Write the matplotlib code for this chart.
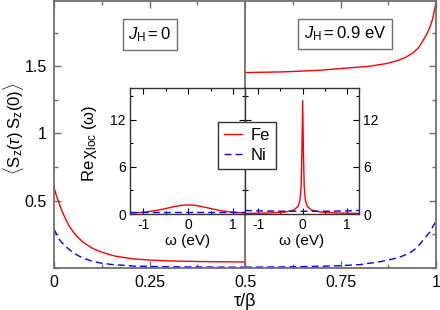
import matplotlib
matplotlib.use("Agg")
import matplotlib.pyplot as plt
from matplotlib.ticker import MultipleLocator

plt.rcParams['font.family'] = ['Liberation Sans', 'DejaVu Sans']
plt.rcParams['mathtext.fontset'] = 'custom'
plt.rcParams['mathtext.rm'] = 'Liberation Sans'
plt.rcParams['mathtext.it'] = 'Liberation Sans:italic'
plt.rcParams['mathtext.sf'] = 'Liberation Sans'
plt.rcParams['axes.unicode_minus'] = False

# main panel: tau/beta in [0, 0.5] is J_H = 0, [0.5, 1] is J_H = 0.9 eV
tau_fe_l = [0, 0.005, 0.011, 0.02, 0.027, 0.033, 0.04, 0.05, 0.06, 0.077, 0.1, 0.12, 0.16, 0.207, 0.25, 0.295, 0.38, 0.45, 0.5]
fe_l = [0.6, 0.55, 0.5, 0.43, 0.385, 0.35, 0.31, 0.27, 0.235, 0.19, 0.148, 0.122, 0.088, 0.068, 0.059, 0.053, 0.048, 0.046, 0.045]
tau_ni_l = [0, 0.005, 0.012, 0.02, 0.033, 0.045, 0.06, 0.075, 0.095, 0.12, 0.148, 0.21, 0.3, 0.4, 0.5]
ni_l = [0.29, 0.26, 0.22, 0.19, 0.155, 0.125, 0.097, 0.075, 0.055, 0.038, 0.027, 0.014, 0.009, 0.007, 0.006]

tau_fe_r = [0.5, 0.6, 0.696, 0.76, 0.827, 0.87, 0.897, 0.92, 0.94, 0.955, 0.966, 0.976, 0.984, 0.991, 0.997, 1.0]
fe_r = [1.453, 1.458, 1.47, 1.485, 1.50, 1.52, 1.54, 1.565, 1.60, 1.64, 1.69, 1.74, 1.79, 1.85, 1.93, 1.98]
tau_ni_r = [0.5, 0.6, 0.7, 0.75, 0.8, 0.85, 0.9, 0.93, 0.95, 0.97, 0.985, 0.992, 1.0]
ni_r = [0.006, 0.008, 0.013, 0.017, 0.025, 0.045, 0.075, 0.11, 0.15, 0.22, 0.27, 0.31, 0.345]

# insets: Re chi_loc(omega)
w_l = [-1.3, -1.0, -0.7, -0.5, -0.3, -0.15, 0, 0.15, 0.3, 0.5, 0.7, 1.0, 1.3]
chi_fe_l = [0.12, 0.22, 0.45, 0.7, 0.95, 1.1, 1.15, 1.1, 0.95, 0.7, 0.45, 0.22, 0.12]
chi_ni_l = [0.3, 0.3, 0.3, 0.3, 0.3, 0.3, 0.3, 0.3, 0.3, 0.3, 0.3, 0.3, 0.3]

w_r = [-1.3, -0.8, -0.4, -0.2, -0.1, -0.06, -0.035, -0.018, 0, 0.018, 0.035, 0.06, 0.1, 0.2, 0.4, 0.8, 1.3]
chi_fe_r = [0.08, 0.12, 0.25, 0.5, 1.0, 1.8, 3.5, 7.5, 14.4, 7.5, 3.5, 1.8, 1.0, 0.5, 0.25, 0.12, 0.08]
w_ni_r = [-1.3, -1.0, -0.5, 0, 0.5, 1.0, 1.3]
chi_ni_r = [0.45, 0.4, 0.35, 0.35, 0.35, 0.4, 0.45]

FE = '#ff0000'
NI = '#0000ff'
GRAY = '#6e6e6e'

fig = plt.figure(figsize=(4.4, 3.1), dpi=100)
ax = fig.add_axes([54 / 440, 42 / 310, 382 / 440, 267 / 310])

ax.plot(tau_fe_l, fe_l, color=FE, lw=1.0)
ax.plot(tau_ni_l, ni_l, color=NI, lw=1.0, dashes=(5, 3))
ax.plot(tau_fe_r, fe_r, color=FE, lw=1.0)
ax.plot(tau_ni_r, ni_r, color=NI, lw=1.0, dashes=(5, 3))
ax.axvline(0.5, color=GRAY, lw=1.3)

ax.set_xlim(0, 1)
ax.set_ylim(0, 1.985)
ax.set_xticks([0, 0.25, 0.5, 0.75, 1])
ax.set_xticklabels(['0', '0.25', '0.5', '0.75', '1'])
ax.set_yticks([0.5, 1, 1.5])
ax.set_yticklabels(['0.5', '1', '1.5'])
ax.xaxis.set_minor_locator(MultipleLocator(0.125))
ax.yaxis.set_minor_locator(MultipleLocator(0.25))
ax.tick_params(which='both', direction='in', top=True, right=True, color=GRAY, width=1.0)
ax.tick_params(which='major', length=5, labelsize=11.5, pad=5)
ax.tick_params(which='minor', length=3)
for s in ax.spines.values():
    s.set_color(GRAY)
    s.set_linewidth(1.3)

ax.set_xlabel(r'τ/β', fontsize=13, labelpad=2)
ax.set_ylabel(r'$\langle\mathrm{S_z}(\tau)\;\mathrm{S_z}(0)\rangle$', fontsize=12)
ax.yaxis.set_label_coords(-0.072, 0.52)

box = dict(boxstyle='square,pad=0.35', fc='white', ec=GRAY, lw=1.0)
ax.text(0.251, 1.735, r'$J_\mathrm{H}=0$', fontsize=12, ha='center', va='center', bbox=box)
ax.text(0.762, 1.74, r'$J_\mathrm{H}=0.9$ eV', fontsize=12, ha='center', va='center', bbox=box)

# insets
ins_l = fig.add_axes([130 / 440, 96 / 310, 115 / 440, 126 / 310])
ins_r = fig.add_axes([245 / 440, 96 / 310, 114 / 440, 126 / 310])

ins_l.plot(w_l, chi_fe_l, color=FE, lw=1.0, label='Fe')
ins_l.plot(w_l, chi_ni_l, color=NI, lw=1.0, dashes=(5, 3), label='Ni')
ins_r.plot(w_r, chi_fe_r, color=FE, lw=1.0)
ins_r.plot(w_ni_r, chi_ni_r, color=NI, lw=1.0, dashes=(5, 3))

for a in (ins_l, ins_r):
    a.set_xlim(-1.3, 1.27)
    a.set_ylim(0, 16)
    a.set_xticks([-1, 0, 1])
    a.set_yticks([0, 6, 12])
    a.xaxis.set_minor_locator(MultipleLocator(0.5))
    a.yaxis.set_minor_locator(MultipleLocator(3))
    a.tick_params(which='both', direction='in', top=True, right=True, left=True, width=0.8)
    a.tick_params(which='major', length=4, labelsize=10, pad=3)
    a.tick_params(which='minor', length=2.5)
    a.set_xlabel('ω (eV)', fontsize=11, labelpad=1)
    for s in a.spines.values():
        s.set_color('#333333')
        s.set_linewidth(1.0)

ins_l.set_ylabel(r'Re$\,$χ$_\mathrm{loc}$ (ω)', fontsize=12)
ins_l.yaxis.set_label_coords(-0.27, 0.56)
ins_r.tick_params(axis='y', labelleft=False, labelright=True)

fig.legend(loc='upper left', bbox_to_anchor=(218 / 440, 1 - 122 / 310), borderaxespad=0,
           fontsize=12, handlelength=1.1, handletextpad=0.5, borderpad=0.35, labelspacing=0.3,
           fancybox=False, edgecolor='#333333', framealpha=1).get_frame().set_linewidth(1.0)

fig.savefig('out.png', dpi=100)
